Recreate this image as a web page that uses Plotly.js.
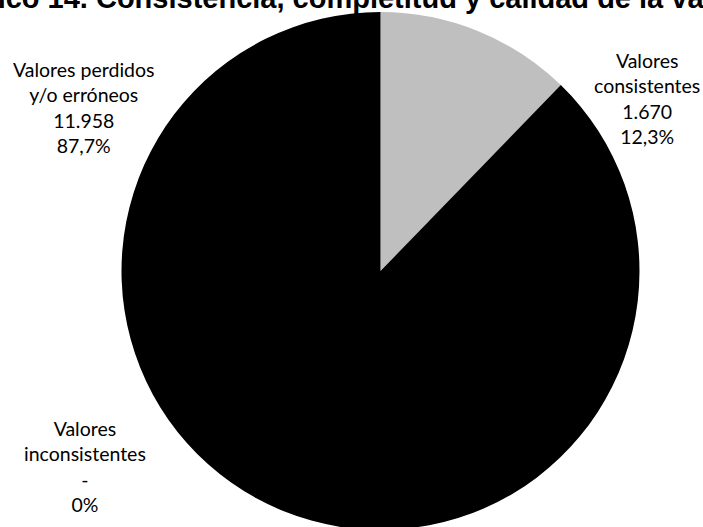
<!DOCTYPE html>
<html>
<head>
<meta charset="utf-8">
<script src="https://cdn.plot.ly/plotly-3.0.1.min.js"></script>
<style>
html,body{margin:0;padding:0;overflow:hidden;background:#fff;}
#chart{width:703px;height:533px;}
</style>
</head>
<body>
<div id="chart"></div>
<script>
// ---- data ----
var categories = ["Valores consistentes", "Valores perdidos y/o erróneos", "Valores inconsistentes"];
var labelLines = [["Valores", "consistentes"], ["Valores perdidos", "y/o erróneos"], ["Valores", "inconsistentes"]];
var values = [1670, 11958, 0];
var valueText = ["1.670", "11.958", "-"];
var percentText = ["12,3%", "87,7%", "0%"];
var colors = ["#BFBFBF", "#000000", "#7F7F7F"];
var titleText = "Gráfico 14. Consistencia, completitud y calidad de la variable";

// ---- layout helpers ----
var W = 703, H = 533;
var M = {l: 121, r: 63, t: 12, b: 3};
var pw = W - M.l - M.r, ph = H - M.t - M.b;
function px2x(px){ return (px - M.l) / pw; }
function py2y(py){ return 1 - (py - M.t) / ph; }

var labelPos = [
  {x: 647, y: 98},
  {x: 84, y: 108},
  {x: 85, y: 466}
];

var annotations = categories.map(function(c, i){
  var txt = labelLines[i].concat([valueText[i], percentText[i]]).join("<br>");
  return {
    xref: "paper", yref: "paper",
    x: px2x(labelPos[i].x), y: py2y(labelPos[i].y),
    xanchor: "center", yanchor: "middle",
    text: txt, showarrow: false, align: "center",
    font: {family: "Lato, 'Open Sans', sans-serif", size: 19.5, color: "#000000"}
  };
});

annotations.push({
  xref: "paper", yref: "paper",
  x: px2x(-64), y: py2y(16),
  xanchor: "left", yanchor: "bottom",
  text: "<b>" + titleText + "</b>", showarrow: false,
  font: {family: "'Liberation Sans', Arial, sans-serif", size: 29, color: "#000000"}
});

var trace = {
  type: "pie",
  labels: categories,
  values: values,
  marker: {colors: colors, line: {width: 0}},
  sort: false,
  direction: "clockwise",
  rotation: 0,
  textinfo: "none",
  hoverinfo: "none",
  showlegend: false
};

var layout = {
  width: W, height: H,
  margin: M,
  paper_bgcolor: "#ffffff",
  plot_bgcolor: "#ffffff",
  showlegend: false,
  annotations: annotations
};

Plotly.newPlot("chart", [trace], layout, {displayModeBar: false, staticPlot: true});
</script>
</body>
</html>
